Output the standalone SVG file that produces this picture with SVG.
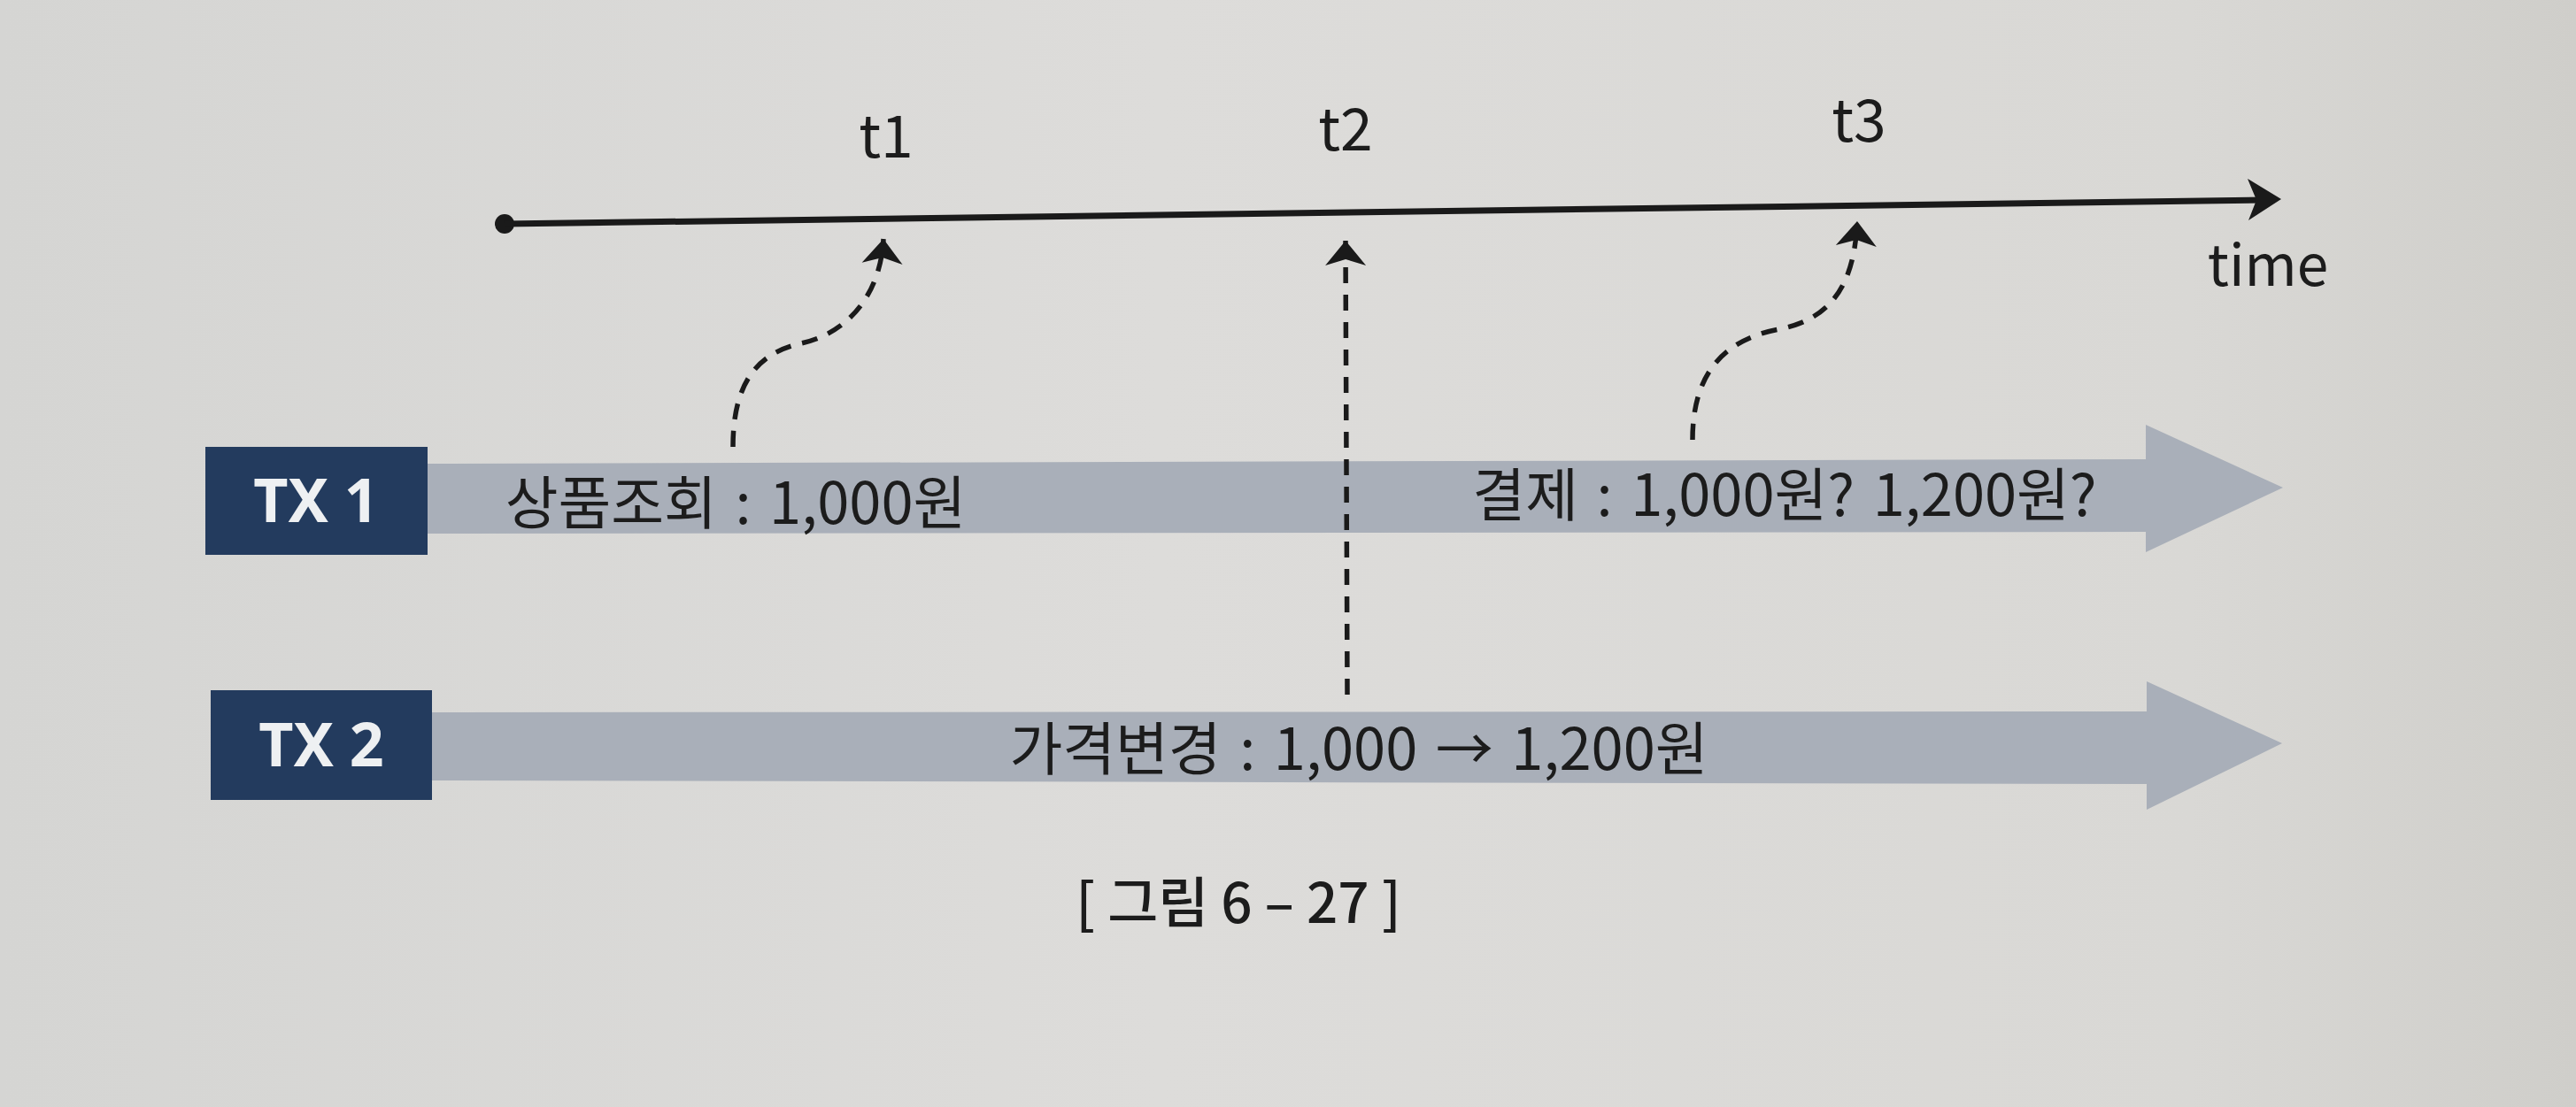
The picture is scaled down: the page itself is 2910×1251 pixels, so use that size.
<svg xmlns="http://www.w3.org/2000/svg" width="2910" height="1251" viewBox="0 0 2910 1251">
  <defs>
    <linearGradient id="paper" x1="0" y1="0" x2="1" y2="0">
      <stop offset="0" stop-color="#d5d5d3"/>
      <stop offset="0.45" stop-color="#dddcda"/>
      <stop offset="0.85" stop-color="#d9d8d5"/>
      <stop offset="1" stop-color="#cfceca"/>
    </linearGradient>
    <marker id="stealth" markerUnits="userSpaceOnUse" markerWidth="60" markerHeight="60" viewBox="-30 -30 60 60" refX="0" refY="0" orient="auto">
      <path d="M0,0 L-28,-23 L-21,0 L-28,23 Z" fill="#1a1a1a"/>
    </marker>
    <style>
      .lbl { font-family: "Noto Sans CJK KR", "Noto Sans", sans-serif; fill: #1c1c1c; }
      .tick { font-size: 66px; text-anchor: middle; }
      .band-text { font-size: 65px; text-anchor: middle; word-spacing: 6px; }
      .band { fill: #a9afb9; }
      .hdr { fill: #233b5e; }
      .hdr-text { font-family: "Noto Sans", "Liberation Sans", sans-serif; font-weight: 700; font-size: 68px; fill: #eef0f2; text-anchor: middle; }
      .dash { fill: none; stroke: #1a1a1a; stroke-width: 5.5; stroke-dasharray: 18 13; marker-end: url(#stealth); }
      .axis { stroke: #1a1a1a; stroke-width: 7; fill: none; }
    </style>
  </defs>

  <rect x="0" y="0" width="2910" height="1251" fill="url(#paper)"/>

  <g id="timeline">
    <circle cx="570" cy="253" r="11" fill="#1a1a1a"/>
    <line class="axis" x1="570" y1="253" x2="2560" y2="226"/>
    <path d="M2577,225 L2539,202 L2549,226 L2540,249 Z" fill="#1a1a1a"/>
    <text class="lbl" x="2562" y="323" font-size="64" text-anchor="middle">time</text>
  </g>

  <g id="t1"><text class="lbl tick" x="1001" y="178">t1</text></g>
  <g id="t2"><text class="lbl tick" x="1520" y="170">t2</text></g>
  <g id="t3"><text class="lbl tick" x="2100" y="160">t3</text></g>

  <g id="tx1">
    <polygon class="band" points="483,524 2424,519 2424,480 2579,551 2424,624 2424,601 483,603"/>
    <rect class="hdr" x="232" y="505" width="251" height="122"/>
    <text class="hdr-text" x="357" y="590">TX 1</text>
    <text class="lbl band-text" x="831" y="592">상품조회 : 1,000원</text>
    <text class="lbl band-text" x="2016" y="583">결제 : 1,000원? 1,200원?</text>
  </g>

  <g id="tx2">
    <polygon class="band" points="488,805 2425,804 2425,770 2578,840 2425,915 2425,886 488,882"/>
    <rect class="hdr" x="238" y="780" width="250" height="124"/>
    <text class="hdr-text" x="363" y="866">TX 2</text>
    <text class="lbl band-text" x="1535" y="870">가격변경 : 1,000 → 1,200원</text>
  </g>

  <g id="connectors">
    <path class="dash" d="M828,505 C828,440 850,400 905,388 C960,376 995,330 998,270"/>
    <path class="dash" d="M1522,785 L1520,272"/>
    <path class="dash" d="M1912,497 C1912,430 1940,385 2010,372 C2070,360 2095,320 2098,250"/>
  </g>

  <g id="caption">
    <text class="lbl" x="1399" y="1043" font-size="62" font-weight="500" text-anchor="middle">[ 그림 6 – 27 ]</text>
  </g>
</svg>
